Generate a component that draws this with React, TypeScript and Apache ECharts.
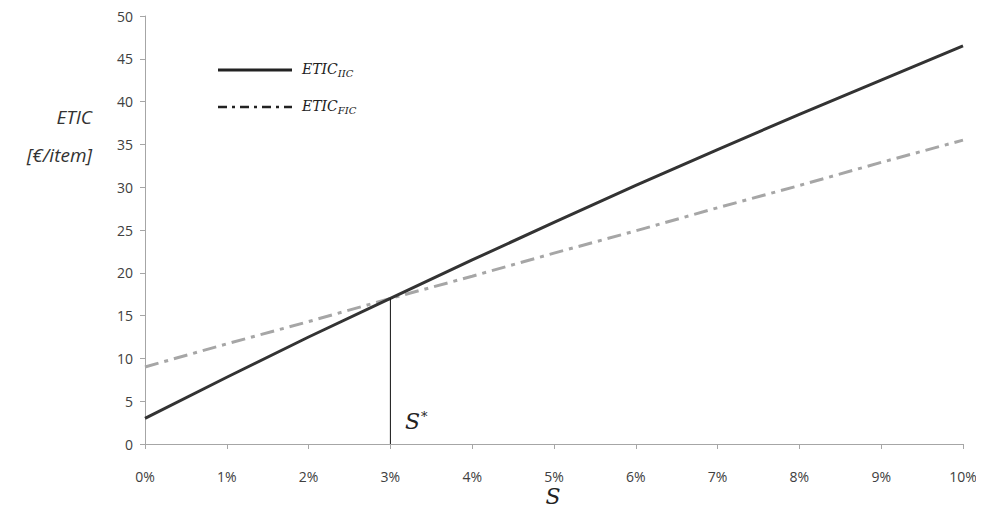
import React, { useEffect, useRef } from "react";
import * as echarts from "echarts";

const sShares = [0, 1, 2, 3, 4, 5, 6, 7, 8, 9, 10];
const eticIIC = [3, 7.8, 12.5, 17, 21.5, 25.9, 30.2, 34.4, 38.5, 42.5, 46.5];
const eticFIC = [9, 11.7, 14.3, 17, 19.6, 22.3, 24.9, 27.6, 30.2, 32.9, 35.5];
const sStar = 3;
const sStarValue = 17;
const yTicks = { min: 0, max: 50, interval: 5 };

export default function App() {
  const ref = useRef<HTMLDivElement>(null);
  useEffect(() => {
    if (!ref.current) return;
    const chart = echarts.init(ref.current, null, { renderer: "svg" });
    const sansFont = "'Open Sans', 'Noto Sans', sans-serif";
    const serifFont = "'DejaVu Serif', 'Liberation Serif', serif";
    const legendRich = {
      m: { font: `italic 14px ${serifFont}`, fill: "#222", lineHeight: 18, verticalAlign: "top" },
      s: { font: `italic 10px ${serifFont}`, fill: "#222", lineHeight: 10, padding: [6, 0, 0, 0], verticalAlign: "top" },
    };
    chart.setOption({
      animation: false,
      backgroundColor: "#ffffff",
      grid: { left: 137, right: 21, top: 8, bottom: 70 },
      xAxis: {
        type: "value",
        min: 0,
        max: 10,
        interval: 1,
        axisLine: { show: true, lineStyle: { color: "#a6a6a6", width: 1 } },
        axisTick: { show: true, length: 5, lineStyle: { color: "#a6a6a6" } },
        splitLine: { show: false },
        axisLabel: {
          formatter: "{value}%",
          color: "#404040",
          fontSize: 14,
          fontFamily: sansFont,
          margin: 25,
        },
      },
      yAxis: {
        type: "value",
        min: yTicks.min,
        max: yTicks.max,
        interval: yTicks.interval,
        axisLine: { show: true, lineStyle: { color: "#a6a6a6", width: 1 } },
        axisTick: { show: true, length: 5, lineStyle: { color: "#a6a6a6" } },
        splitLine: { show: false },
        axisLabel: {
          color: "#404040",
          fontSize: 14,
          fontFamily: sansFont,
          margin: 12,
        },
      },
      series: [
        {
          name: "ETIC_FIC",
          type: "line",
          data: sShares.map((s, i) => [s, eticFIC[i]]),
          showSymbol: false,
          lineStyle: { color: "#a6a6a6", width: 3, type: [14, 6, 4, 6] },
          z: 2,
        },
        {
          name: "ETIC_IIC",
          type: "line",
          data: sShares.map((s, i) => [s, eticIIC[i]]),
          showSymbol: false,
          lineStyle: { color: "#333333", width: 3 },
          z: 3,
        },
        {
          name: "S*",
          type: "line",
          data: [
            [sStar, 0],
            [sStar, sStarValue],
          ],
          showSymbol: false,
          lineStyle: { color: "#111111", width: 1 },
          z: 4,
        },
      ],
      graphic: [
        {
          type: "text",
          x: 84,
          y: 99,
          style: {
            text: "ETIC",
            font: `italic 19px ${sansFont}`,
            fill: "#333",
            align: "right",
          },
        },
        {
          type: "text",
          x: 84,
          y: 137,
          style: {
            text: "[€/item]",
            font: `italic 19px ${sansFont}`,
            fill: "#333",
            align: "right",
          },
        },
        {
          type: "line",
          shape: { x1: 210, y1: 62, x2: 284, y2: 62 },
          style: { stroke: "#222", lineWidth: 3 },
        },
        {
          type: "line",
          shape: { x1: 210, y1: 99, x2: 284, y2: 99 },
          style: { stroke: "#222", lineWidth: 2.5, lineDash: [9, 5, 3, 5] },
        },
        {
          type: "text",
          x: 294,
          y: 54,
          style: { text: "{m|ETIC}{s|IIC}", rich: legendRich },
        },
        {
          type: "text",
          x: 294,
          y: 91,
          style: { text: "{m|ETIC}{s|FIC}", rich: legendRich },
        },
        {
          type: "text",
          x: 397,
          y: 402,
          style: {
            text: "{m|S}{s|*}",
            rich: {
              m: { font: `italic 22px ${serifFont}`, fill: "#222", lineHeight: 26, verticalAlign: "top" },
              s: { font: `13px ${serifFont}`, fill: "#222", lineHeight: 14, padding: [0, 0, 0, 1], verticalAlign: "top" },
            },
          },
        },
        {
          type: "text",
          x: 545,
          y: 477,
          style: {
            text: "S",
            font: `italic 22px ${serifFont}`,
            fill: "#222",
            align: "center",
          },
        },
      ],
    });
    return () => chart.dispose();
  }, []);
  return <div ref={ref} style={{ width: 976, height: 506 }} />;
}
